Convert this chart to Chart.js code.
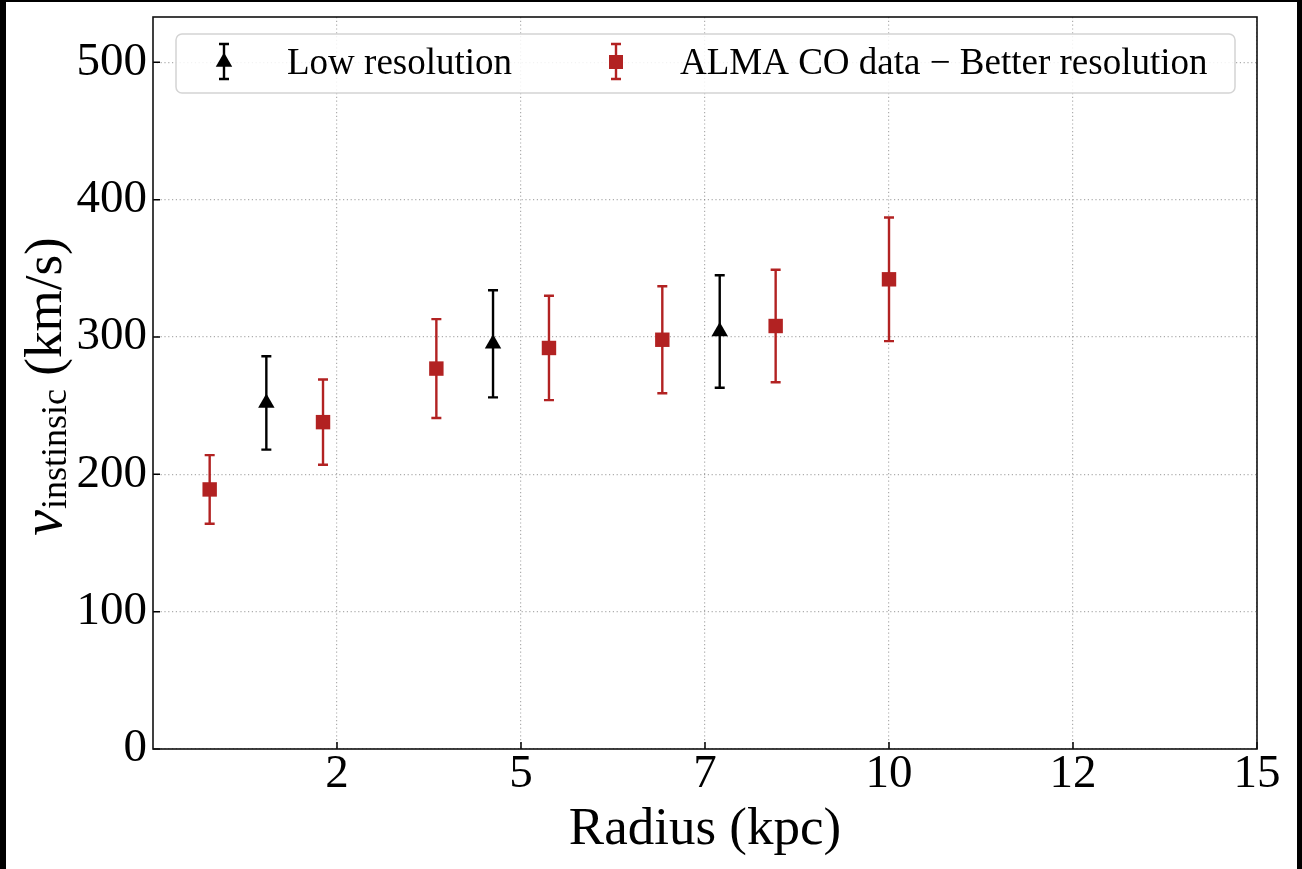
<!DOCTYPE html>
<html>
<head>
<meta charset="utf-8">
<script src="https://cdn.jsdelivr.net/npm/chart.js@4/dist/chart.umd.js"></script>
<style>
  html, body { margin: 0; padding: 0; background: #000; }
  #wrap { position: absolute; left: 6px; top: 2px; width: 1291px; height: 867px; background: #fff; }
  canvas { display: block; }
</style>
</head>
<body>
<div id="wrap"><canvas id="c" width="1291" height="867"></canvas></div>
<script>
// low resolution points (black triangles)
const lowX = [1.54, 4.62, 7.70];
const lowV = [252, 295, 304];
const lowErr = [34, 39, 41];

// ALMA CO points (red squares)
const almaX = [0.77, 2.31, 3.85, 5.38, 6.92, 8.46, 10.0];
const almaV = [189, 238, 277, 292, 298, 308, 342];
const almaErr = [25, 31, 36, 38, 39, 41, 45];

const xTicks = [2.5, 5, 7.5, 10, 12.5, 15];
const xTickLabels = ['2', '5', '7', '10', '12', '15'];
const yTicks = [0, 100, 200, 300, 400, 500];

const red = '#b22222';
const serif = "'Liberation Serif', 'DejaVu Serif', serif";

function drawBar(ctx, x, yTop, yBot, cap, color) {
    ctx.save();
    ctx.strokeStyle = color;
    ctx.lineWidth = 2.4;
    ctx.beginPath();
    ctx.moveTo(x, yTop); ctx.lineTo(x, yBot);
    ctx.moveTo(x - cap, yTop); ctx.lineTo(x + cap, yTop);
    ctx.moveTo(x - cap, yBot); ctx.lineTo(x + cap, yBot);
    ctx.stroke();
    ctx.restore();
}

function drawTri(ctx, x, y, r) {
    ctx.save();
    ctx.fillStyle = '#000';
    ctx.beginPath();
    ctx.moveTo(x, y - r);
    ctx.lineTo(x + r * 0.866, y + r * 0.5);
    ctx.lineTo(x - r * 0.866, y + r * 0.5);
    ctx.closePath();
    ctx.fill();
    ctx.restore();
}

function drawSquare(ctx, x, y, s) {
    ctx.save();
    ctx.fillStyle = red;
    ctx.fillRect(x - s / 2, y - s / 2, s, s);
    ctx.restore();
}

const errorBars = {
    id: 'errorBars',
    beforeDatasetsDraw(chart) {
        const ctx = chart.ctx, ys = chart.scales.y;
        chart.data.datasets.forEach((ds, i) => {
            chart.getDatasetMeta(i).data.forEach((pt, j) => {
                const v = ds.data[j].y, e = ds.errors[j];
                drawBar(ctx, pt.x, ys.getPixelForValue(v + e), ys.getPixelForValue(v - e), 5, ds.borderColor);
            });
        });
    }
};

const decor = {
    id: 'decor',
    afterDatasetsDraw(chart) {
        const ctx = chart.ctx;
        const a = chart.chartArea;
        const xs = chart.scales.x, ys = chart.scales.y;

        // inward ticks
        ctx.save();
        ctx.strokeStyle = '#000';
        ctx.lineWidth = 1.5;
        ctx.beginPath();
        yTicks.forEach(v => {
            const p = ys.getPixelForValue(v);
            ctx.moveTo(a.left, p); ctx.lineTo(a.left + 7, p);
        });
        xTicks.forEach(v => {
            const p = xs.getPixelForValue(v);
            ctx.moveTo(p, a.bottom); ctx.lineTo(p, a.bottom - 7);
        });
        ctx.stroke();

        // frame
        ctx.strokeStyle = '#111';
        ctx.lineWidth = 1.6;
        ctx.strokeRect(a.left, a.top, a.right - a.left, a.bottom - a.top);
        ctx.restore();

        // legend
        const lx = a.left + 23, ly = a.top + 17, lw = 1059, lh = 59;
        ctx.save();
        ctx.fillStyle = 'rgba(255,255,255,0.85)';
        ctx.strokeStyle = '#d4d4d4';
        ctx.lineWidth = 1.5;
        ctx.beginPath();
        ctx.roundRect(lx, ly, lw, lh, 6);
        ctx.fill();
        ctx.stroke();

        const my = a.top + 45;
        const ds = chart.data.datasets;
        drawBar(ctx, a.left + 71, my - 18, my + 17, 5, '#000');
        drawTri(ctx, a.left + 71, my, 9.5);
        drawBar(ctx, a.left + 463, my - 18, my + 17, 5, red);
        drawSquare(ctx, a.left + 463, my, 14);

        ctx.fillStyle = '#000';
        ctx.font = '37px ' + serif;
        ctx.textBaseline = 'alphabetic';
        ctx.fillText(ds[0].label, a.left + 134, a.top + 57);
        ctx.fillText(ds[1].label, a.left + 527, a.top + 57);
        ctx.restore();

        // y axis title with subscript
        ctx.save();
        ctx.translate(55, 385);
        ctx.rotate(-Math.PI / 2);
        ctx.fillStyle = '#000';
        ctx.textBaseline = 'alphabetic';
        const fv = 'italic 58px ' + serif, fs = '36px ' + serif, fm = '53px ' + serif;
        const rest = ' (km/s)';
        ctx.font = fv; const wv = ctx.measureText('v').width;
        ctx.font = fs; const ws = ctx.measureText('instinsic').width;
        ctx.font = fm; const wm = ctx.measureText(rest).width;
        let x0 = -(wv + ws + wm) / 2;
        ctx.font = fv; ctx.fillText('v', x0, 0); x0 += wv + 1;
        ctx.font = fs; ctx.fillText('instinsic', x0, 5); x0 += ws;
        ctx.font = fm; ctx.fillText(rest, x0, 0);
        ctx.restore();
    }
};

const gridStyle = {
    color: 'rgba(0,0,0,0.32)',
    lineWidth: 1.2,
    drawTicks: false
};

new Chart(document.getElementById('c').getContext('2d'), {
    type: 'scatter',
    data: {
        datasets: [
            {
                label: 'Low resolution',
                data: lowX.map((x, i) => ({x: x, y: lowV[i]})),
                errors: lowErr,
                pointStyle: 'triangle',
                pointRadius: 9.5,
                backgroundColor: '#000',
                borderColor: '#000',
                borderWidth: 0
            },
            {
                label: 'ALMA CO data \u2212 Better resolution',
                data: almaX.map((x, i) => ({x: x, y: almaV[i]})),
                errors: almaErr,
                pointStyle: 'rect',
                pointRadius: 10.2,
                backgroundColor: red,
                borderColor: red,
                borderWidth: 0
            }
        ]
    },
    options: {
        responsive: false,
        animation: false,
        events: [],
        layout: {padding: {top: 15, right: 40, left: 0, bottom: 0}},
        plugins: {legend: {display: false}, tooltip: {enabled: false}},
        scales: {
            x: {
                type: 'linear',
                min: 0,
                max: 15,
                afterBuildTicks: s => { s.ticks = xTicks.map(v => ({value: v})); },
                afterFit: s => { s.height = 120; s.paddingLeft = 0; s.paddingRight = 0; },
                grid: gridStyle,
                border: {display: false, dash: [1.2, 2.6]},
                ticks: {
                    color: '#000',
                    padding: 2,
                    maxRotation: 0,
                    font: {family: serif, size: 47, lineHeight: 1},
                    callback: (v, i) => xTickLabels[i]
                },
                title: {
                    display: true,
                    text: 'Radius (kpc)',
                    color: '#000',
                    font: {family: serif, size: 53},
                    padding: {top: 0, bottom: 7}
                }
            },
            y: {
                min: 0,
                max: 533,
                afterBuildTicks: s => { s.ticks = yTicks.map(v => ({value: v})); },
                afterFit: s => { s.width = 147; s.paddingTop = 0; s.paddingBottom = 0; },
                grid: gridStyle,
                border: {display: false, dash: [1.2, 2.6]},
                ticks: {
                    color: '#000',
                    padding: 6,
                    font: {family: serif, size: 47},
                    callback: v => String(v)
                }
            }
        }
    },
    plugins: [errorBars, decor]
});
</script>
</body>
</html>
